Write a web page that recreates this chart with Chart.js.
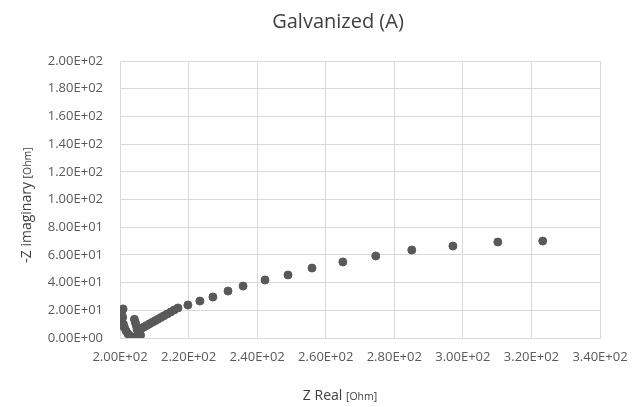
<!DOCTYPE html>
<html>
<head>
<meta charset="utf-8">
<script src="https://cdn.jsdelivr.net/npm/chart.js@4/dist/chart.umd.min.js"></script>
<style>
  html, body { margin: 0; padding: 0; background: #fff; }
  #wrap { width: 633px; height: 407px; }
</style>
</head>
<body>
<div id="wrap"><canvas id="nyquist" width="633" height="407"></canvas></div>
<script>
// Z Real [Ohm]
const zReal = [
    200.9, 200.5, 200.8, 200.4, 201.0, 201.3,
    201.8, 202.3, 202.9, 203.6, 204.4, 205.3, 206.0,
    204.2, 204.5, 204.8, 205.0, 205.4,
    206.4, 207.0, 207.8, 208.6, 209.4, 210.2, 211.0, 211.9, 212.8, 213.8, 214.8, 215.8,
    216.9, 219.8, 223.3, 227.1, 231.5, 235.9, 242.3, 249.0, 256.0, 265.0, 274.6, 285.1, 297.1, 310.2, 323.3
];
// -Z imaginary [Ohm]
const zImag = [
    21.0, 18.0, 15.0, 12.5, 10.0, 7.5,
    5.0, 3.0, 1.5, 0.6, 0.3, 0.8, 2.0,
    13.5, 11.0, 8.5, 6.0, 4.0,
    7.2, 8.0, 9.1, 10.2, 11.3, 12.4, 13.5, 14.8, 16.0, 17.4, 18.8, 20.2,
    21.7, 23.8, 26.7, 29.6, 33.9, 37.5, 41.9, 45.5, 50.5, 54.9, 59.2, 63.5, 66.4, 69.3, 70.0
];

const xMin = 200, xMax = 340, xStep = 20;
const yMin = 0, yMax = 200, yStep = 20;

const chartTitle = 'Galvanized (A)';
const xTitle = ['Z Real', '[Ohm]'];
const yTitle = ['-Z imaginary', '[Ohm]'];

const points = zReal.map((x, i) => ({ x: x, y: zImag[i] }));

// formato tipo Excel: 2.00E+02
function sci(v) {
    const parts = Number(v).toExponential(2).split('e');
    let exp = parseInt(parts[1], 10);
    const sign = exp < 0 ? '-' : '+';
    exp = Math.abs(exp);
    return parts[0] + 'E' + sign + (exp < 10 ? '0' + exp : exp);
}

const FONT = "'Open Sans', 'Liberation Sans', sans-serif";

// titoli disegnati a mano (dimensioni miste per [Ohm])
const titlesPlugin = {
    id: 'titles',
    afterDraw(chart) {
        const ctx = chart.ctx;
        ctx.save();
        ctx.fillStyle = '#404040';
        ctx.textBaseline = 'middle';

        ctx.font = '20px ' + FONT;
        ctx.textAlign = 'center';
        ctx.fillText(chartTitle, 338, 22);

        const drawMixed = (cx, cy, a, b) => {
            ctx.font = '14px ' + FONT;
            const wa = ctx.measureText(a + ' ').width;
            ctx.font = '10.5px ' + FONT;
            const wb = ctx.measureText(b).width;
            let x0 = cx - (wa + wb) / 2;
            ctx.textAlign = 'left';
            ctx.font = '14px ' + FONT;
            ctx.fillText(a + ' ', x0, cy);
            ctx.font = '10.5px ' + FONT;
            ctx.fillText(b, x0 + wa, cy + 1);
        };
        // asse x
        drawMixed(340, 396, xTitle[0], xTitle[1]);

        // asse y ruotato
        ctx.translate(27, 205);
        ctx.rotate(-Math.PI / 2);
        drawMixed(0, 0, yTitle[0], yTitle[1]);
        ctx.restore();
    }
};

new Chart(document.getElementById('nyquist'), {
    type: 'scatter',
    data: {
        datasets: [{
            label: 'Galvanized (A)',
            data: points,
            backgroundColor: '#595959',
            borderColor: '#595959',
            pointRadius: 4,
            pointHoverRadius: 4
        }]
    },
    options: {
        responsive: false,
        animation: false,
        layout: { padding: { top: 61, right: 33, bottom: 0, left: 0 } },
        plugins: {
            legend: { display: false },
            tooltip: { enabled: false }
        },
        scales: {
            x: {
                type: 'linear',
                min: xMin,
                max: xMax,
                afterFit(axis) {
                    axis.height = 69;
                    axis.paddingRight = 0;
                },
                grid: { color: '#d9d9d9', drawTicks: false },
                border: { color: '#d9d9d9' },
                ticks: {
                    stepSize: xStep,
                    padding: 11,
                    color: '#595959',
                    font: { family: FONT, size: 13 },
                    maxRotation: 0,
                    autoSkip: false,
                    callback: v => sci(v)
                }
            },
            y: {
                type: 'linear',
                min: yMin,
                max: yMax,
                afterFit(axis) { axis.width = 120; },
                grid: { color: '#d9d9d9', drawTicks: false },
                border: { color: '#d9d9d9' },
                ticks: {
                    stepSize: yStep,
                    padding: 17,
                    color: '#595959',
                    font: { family: FONT, size: 13 },
                    autoSkip: false,
                    callback: v => sci(v)
                }
            }
        }
    },
    plugins: [titlesPlugin]
});
</script>
</body>
</html>
